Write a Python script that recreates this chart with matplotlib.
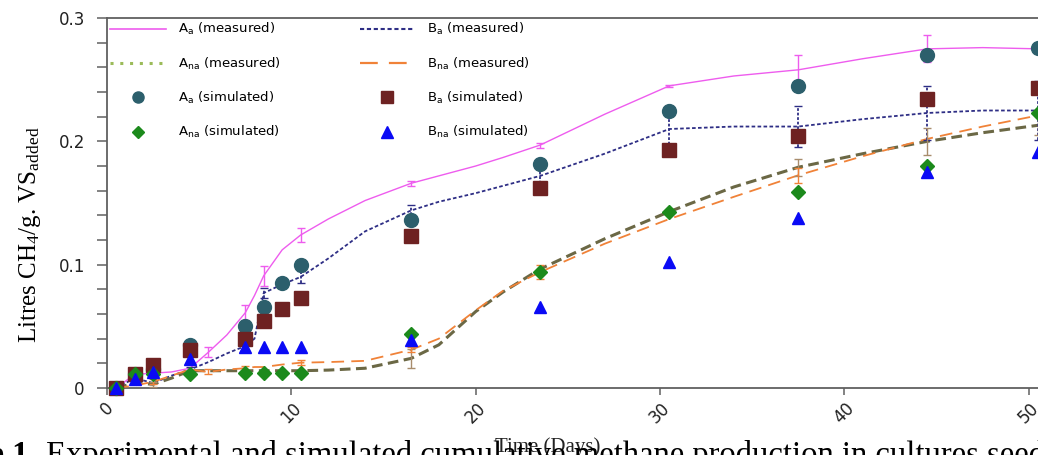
import numpy as np
import matplotlib.pyplot as plt
from matplotlib.lines import Line2D
from matplotlib.ticker import MultipleLocator

plt.rcParams["mathtext.default"] = "regular"

# simulated points
days_sim = [0.5, 1.5, 2.5, 4.5, 7.5, 8.5, 9.5, 10.5, 16.5, 23.5, 30.5, 37.5, 44.5, 50.5]
aa_sim = [0.0, 0.011, 0.015, 0.035, 0.050, 0.066, 0.085, 0.100, 0.136, 0.182, 0.225, 0.245, 0.270, 0.276]
ba_sim = [0.0, 0.011, 0.019, 0.031, 0.040, 0.054, 0.064, 0.073, 0.123, 0.162, 0.193, 0.204, 0.234, 0.2435]
ana_sim = [0.0, 0.011, 0.011, 0.011, 0.012, 0.012, 0.012, 0.012, 0.044, 0.094, 0.143, 0.159, 0.180, 0.223]
bna_sim = [0.0, 0.007, 0.013, 0.0235, 0.0335, 0.0335, 0.0335, 0.0335, 0.039, 0.066, 0.102, 0.138, 0.175, 0.191]

# measured curves
days_curve = [0.5, 1.5, 2.5, 3.5, 4.5, 5.5, 6.5, 7.5, 8.0, 8.5, 9.5, 10.5, 12, 14, 16.5,
              18, 20, 21.5, 23.5, 27, 30.5, 34, 37.5, 41, 44.5, 47.5, 50.5]
aa_meas = [0.0, 0.011, 0.012, 0.013, 0.016, 0.029, 0.043, 0.061, 0.075, 0.091, 0.112, 0.124,
           0.137, 0.152, 0.166, 0.172, 0.180, 0.187, 0.197, 0.222, 0.245, 0.253, 0.258,
           0.267, 0.275, 0.276, 0.275]
ba_meas = [0.0, 0.008, 0.004, 0.010, 0.015, 0.021, 0.028, 0.034, 0.040, 0.077, 0.084, 0.090,
           0.105, 0.127, 0.144, 0.151, 0.158, 0.164, 0.172, 0.190, 0.210, 0.212, 0.212,
           0.218, 0.223, 0.225, 0.225]
ana_meas = [0.0, 0.004, 0.003, 0.008, 0.014, 0.014, 0.014, 0.014, 0.014, 0.014, 0.014, 0.014,
            0.0145, 0.016, 0.024, 0.035, 0.062, 0.078, 0.0965, 0.121, 0.143, 0.163, 0.179,
            0.190, 0.200, 0.207, 0.213]
bna_meas = [0.0, 0.002, 0.005, 0.010, 0.015, 0.013, 0.015, 0.016, 0.017, 0.017, 0.019, 0.0205,
            0.021, 0.022, 0.031, 0.040, 0.063, 0.079, 0.094, 0.117, 0.137, 0.155, 0.1725,
            0.188, 0.202, 0.212, 0.221]

# error bars
aa_err_days = [5.5, 7.5, 8.5, 10.5, 16.5, 23.5, 30.5, 37.5, 44.5]
aa_err_vals = [0.029, 0.061, 0.091, 0.124, 0.166, 0.197, 0.245, 0.258, 0.275]
aa_err = [0.004, 0.006, 0.008, 0.006, 0.002, 0.002, 0.001, 0.012, 0.011]
ba_err_days = [4.5, 8.5, 10.5, 16.5, 23.5, 30.5, 37.5, 44.5, 50.5]
ba_err_vals = [0.015, 0.077, 0.090, 0.144, 0.172, 0.210, 0.212, 0.223, 0.225]
ba_err = [0.002, 0.004, 0.005, 0.004, 0.010, 0.016, 0.0165, 0.022, 0.024]
ana_err_days = [2.5, 16.5, 37.5, 44.5, 50.5]
ana_err_vals = [0.003, 0.024, 0.179, 0.200, 0.213]
ana_err = [0.002, 0.008, 0.007, 0.011, 0.008]
bna_err_days = [2.5, 5.5, 7.5, 10.5, 16.5, 23.5, 37.5]
bna_err_vals = [0.005, 0.013, 0.016, 0.0205, 0.031, 0.094, 0.1725]
bna_err = [0.002, 0.002, 0.002, 0.002, 0.002, 0.006, 0.006]

xticks = [0, 10, 20, 30, 40, 50]
yticks = [0, 0.1, 0.2, 0.3]
yticklabels = ["0", "0.1", "0.2", "0.3"]

magc = "#EE5CEE"
navyc = "#2E2E85"
olivec = "#6B6845"
tanc = "#A88C6C"
orangec = "#F08238"
circc = "#2C5F6C"
squarec = "#6E2222"
diamc = "#1C8A1C"
tric = "#0A0AF5"

fig = plt.figure(figsize=(10.38, 4.55), dpi=100)
ax = fig.add_axes([0.1031, 0.1473, 0.8969, 0.8131])

ax.plot(days_curve, aa_meas, color=magc, lw=1.0, zorder=3)
ax.plot(days_curve, ba_meas, color=navyc, lw=1.3, dashes=(2, 1.3), zorder=3)
ax.plot(days_curve, ana_meas, color=olivec, lw=2.2, dashes=(3.5, 1.8), zorder=3)
ax.plot(days_curve, bna_meas, color=orangec, lw=1.3, dashes=(7, 4), zorder=3)

ax.errorbar(aa_err_days, aa_err_vals, yerr=aa_err, fmt="none", ecolor=magc,
            elinewidth=1.0, capsize=3, zorder=3)
eb = ax.errorbar(ba_err_days, ba_err_vals, yerr=ba_err, fmt="none", ecolor=navyc,
                 elinewidth=1.3, capsize=3, zorder=3)
eb[2][0].set_linestyle((0, (1.5, 1)))
ax.errorbar(ana_err_days, ana_err_vals, yerr=ana_err, fmt="none", ecolor=tanc,
            elinewidth=1.0, capsize=3, zorder=3)
ax.errorbar(bna_err_days, bna_err_vals, yerr=bna_err, fmt="none", ecolor=orangec,
            elinewidth=1.0, capsize=3, zorder=3)

ax.plot(days_sim, aa_sim, "o", color=circc, ms=10, zorder=4, clip_on=False)
ax.plot(days_sim, ba_sim, "s", color=squarec, ms=9.5, zorder=4, clip_on=False)
ax.plot(days_sim, ana_sim, "D", color=diamc, ms=7.5, zorder=5, clip_on=False)
ax.plot(days_sim, bna_sim, "^", color=tric, ms=9, zorder=5, clip_on=False)

ax.set_xlim(0, 50.5)
ax.set_ylim(0, 0.3)

for s in ["top", "left", "bottom"]:
    ax.spines[s].set_color("#606060")
    ax.spines[s].set_linewidth(1.3)
ax.spines["right"].set_visible(False)

ax.set_xticks(xticks)
ax.set_xticklabels([str(t) for t in xticks], rotation=45, ha="center", va="top",
                   fontsize=12, color="#222222")
ax.set_yticks(yticks)
ax.set_yticklabels(yticklabels, fontsize=12, color="#222222")
ax.yaxis.set_minor_locator(MultipleLocator(0.02))
ax.tick_params(axis="both", which="both", direction="out", color="#606060", width=1.1)
ax.tick_params(axis="y", which="both", length=7, pad=9)
ax.tick_params(axis="x", length=5, pad=3)

handles = [
    Line2D([], [], color=magc, lw=1.2),
    Line2D([], [], color="#9BBB59", lw=2.2, dashes=(1, 2.2)),
    Line2D([], [], ls="none", marker="o", color=circc, ms=8),
    Line2D([], [], ls="none", marker="D", color=diamc, ms=6),
    Line2D([], [], color=navyc, lw=1.5, dashes=(2, 1.3)),
    Line2D([], [], color=orangec, lw=1.6, dashes=(8, 5)),
    Line2D([], [], ls="none", marker="s", color=squarec, ms=8),
    Line2D([], [], ls="none", marker="^", color=tric, ms=8),
]
labels = [
    "A$_a$ (measured)", "A$_{na}$ (measured)", "A$_a$ (simulated)", "A$_{na}$ (simulated)",
    "B$_a$ (measured)", "B$_{na}$ (measured)", "B$_a$ (simulated)", "B$_{na}$ (simulated)",
]
ax.legend(handles, labels, ncol=2, loc="upper left", bbox_to_anchor=(0.0, 1.0),
          frameon=False, fontsize=9.5, handlelength=4.2, handletextpad=0.9,
          columnspacing=6.0, labelspacing=1.38, borderaxespad=0.0, borderpad=0.25,
          numpoints=1)

fig.text(30 / 1038, 1 - 235 / 455, "Litres CH$_4$/g. VS$_{added}$", rotation=90,
         ha="center", va="center", fontsize=18, family="Liberation Serif")
fig.text(548 / 1038, 3 / 455, "Time (Days)", ha="center", va="baseline",
         fontsize=15, family="Liberation Serif", color="#222222")

fig.text(36 / 1038, -9 / 455, "Figure 1.", ha="right", va="baseline", fontsize=23.5,
         family="Liberation Serif", weight="bold")
fig.text(46 / 1038, -9 / 455,
         "Experimental and simulated cumulative methane production in cultures seeded",
         ha="left", va="baseline", fontsize=23.5, family="Liberation Serif")

fig.savefig("out.png", dpi=100)
